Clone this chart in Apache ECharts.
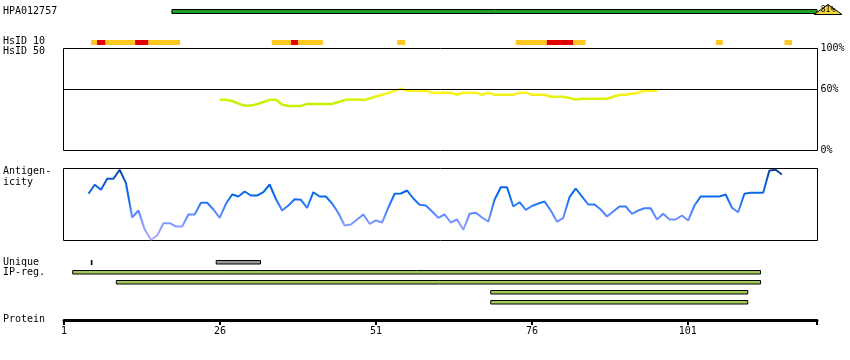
<!DOCTYPE html>
<html><head><meta charset="utf-8">
<script src="https://cdn.jsdelivr.net/npm/echarts@6/dist/echarts.min.js"></script>
<style>html,body{margin:0;padding:0;background:#fff}#c{width:850px;height:360px}</style>
</head><body><div id="c"></div>
<script>
// ---- data ----
const proteinStart = 1;
const proteinEnd = 121.7;
const axisTickValues = [1, 26, 51, 76, 101];
const hpaName = 'HPA012757';
const hpaRange = [18.3, 121.7];
const hpaIdentity = '81%';
const hsid10Orange = [[5.33, 19.6], [34.3, 42.5], [54.4, 55.7], [73.4, 84.6], [105.5, 106.6], [116.5, 117.7]];
const hsid10Red = [[6.3, 7.6], [12.4, 14.5], [37.4, 38.5], [78.4, 82.6]];
const hsid50Start = 26;
const hsid50Values = [49.7, 49.7, 48.5, 46, 44, 44, 45.5, 47.5, 49.7, 49.7,
  45, 43.7, 43.7, 43.7, 45.7, 45.7, 45.7, 45.7, 45.7, 47.5,
  49.5, 50, 50, 49.4, 51, 53, 54.7, 56.5, 58.5, 60.7,
  58.7, 58.5, 58.5, 58.5, 56.7, 56.7, 56.7, 56.7, 54.7, 56.7,
  56.7, 56.7, 54.7, 56.7, 54.7, 54.7, 54.7, 54.7, 56.7, 56.7,
  54.7, 54.7, 54.7, 52.7, 52.7, 52.7, 51.5, 50, 50.7, 50.7,
  50.7, 50.7, 50.7, 52.7, 54.7, 54.7, 55.7, 56.7, 58.7, 58.7, 58.7];
const hsid50Ticks = [0, 60, 100];
const antigenStart = 5;
const antigenValues = [46.7, 55.7, 50.7, 61.7, 61.7, 70.7, 57.3, 23, 30, 11,
  0.7, 5, 17.3, 17.3, 14, 14, 26, 26, 37.7, 37.7,
  31, 22.7, 36.7, 46, 44, 49, 45, 45, 48.3, 56,
  41.5, 30, 35, 41.3, 40.7, 32.7, 48.3, 44, 44, 37,
  27.5, 15, 16, 21, 26, 16.7, 20, 18, 33, 46.7,
  47, 50, 42, 35.7, 35, 29, 22.7, 26, 18, 21,
  10.7, 26.7, 27.7, 23, 18.7, 40.7, 53.3, 53.3, 34, 38.3,
  30.7, 34.5, 37, 39, 30, 18.7, 22.7, 43.3, 52, 44,
  36, 36, 31, 24, 29, 34, 34, 26.7, 30, 32.3,
  32.3, 21, 26.7, 21, 21, 25, 20, 35, 44, 44,
  44, 44, 46, 32.7, 28.3, 46.7, 47.7, 47.7, 47.7, 70,
  70.7, 66];
const regionRows = ['Unique', 'IP1', 'IP2', 'IP3', 'IP4'];
const uniqueTicks = [[5.3, 5.55]];
const uniqueBars = [[25.4, 32.5]];
const ipRegions = [[2.4, 112.65, 1], [9.4, 112.65, 2], [69.4, 110.6, 3], [69.4, 110.6, 4]];

// ---- chart ----
const FONT = 'DejaVu Sans Mono';
const L = 64, W = 753;
const chart = echarts.init(document.getElementById('c'), null, {renderer: 'canvas'});

function xAx(i, extra) {
  return Object.assign({gridIndex: i, type: 'value', min: proteinStart, max: proteinEnd, show: false}, extra || {});
}
function catY(i, data) {
  return {gridIndex: i, type: 'category', data: data, inverse: true, show: false};
}

const hsid50Data = hsid50Values.map((v, i) => [hsid50Start + i, v]);
const antigenData = antigenValues.map((v, i) => [antigenStart + i, v]);
const hsid10Data = hsid10Orange.map(s => [s[0], s[1], 0, 'o']).concat(hsid10Red.map(s => [s[0], s[1], 0, 'r']));
const regionData = uniqueTicks.map(s => [s[0], s[1], 0, 't'])
  .concat(uniqueBars.map(s => [s[0], s[1], 0, 'g']))
  .concat(ipRegions.map(s => [s[0], s[1], s[2], 'i']));

const labels = [
  ['HPA012757', 12.5], ['HsID 10', 42.5], ['HsID 50', 52.5], ['Antigen-', 172.5], ['icity', 183.3],
  ['Unique', 263.3], ['IP-reg.', 273.3], ['Protein', 320]
];

chart.setOption({
  animation: false,
  backgroundColor: '#fff',
  textStyle: {fontFamily: FONT},
  grid: [
    {left: L, width: W, top: 7, height: 10},
    {left: L, width: W, top: 37, height: 10},
    {left: 63.5, width: 754, top: 48.5, height: 102, show: true, borderColor: '#000', borderWidth: 1},
    {left: 63.5, width: 754, top: 168.5, height: 72, show: true, borderColor: '#000', borderWidth: 1},
    {left: L, width: W, top: 257, height: 50},
    {left: L, width: W, top: 300, height: 20}
  ],
  xAxis: [
    xAx(0), xAx(1), xAx(2), xAx(3), xAx(4),
    xAx(5, {
      show: true, position: 'bottom',
      axisLine: {show: true, lineStyle: {color: '#000', width: 3}},
      axisTick: {show: true, customValues: axisTickValues.concat([proteinEnd]), length: 5, lineStyle: {color: '#000', width: 2}},
      axisLabel: {show: true, customValues: axisTickValues, color: '#000', fontFamily: FONT, fontSize: 10, margin: 6},
      splitLine: {show: false}
    })
  ],
  yAxis: [
    catY(0, [hpaName]),
    catY(1, ['HsID 10']),
    {gridIndex: 2, type: 'value', min: 0, max: 100, position: 'right',
      axisLine: {show: false}, axisTick: {show: false}, splitLine: {show: false},
      axisLabel: {show: true, customValues: hsid50Ticks, formatter: '{value}%', color: '#000', fontFamily: FONT, fontSize: 10, margin: 3}},
    {gridIndex: 3, type: 'value', min: 0, max: 72, show: false},
    catY(4, regionRows),
    {gridIndex: 5, type: 'value', show: false}
  ],
  visualMap: [
    {type: 'continuous', show: false, seriesIndex: 2, dimension: 1, min: 47, max: 57,
      inRange: {color: ['#c6f000', '#fff21e']}},
    {type: 'continuous', show: false, seriesIndex: 3, dimension: 1, min: 0, max: 72,
      inRange: {color: ['#b4a8ff', '#8a9cff', '#4f86ff', '#0a6cf0', '#0a5fd8', '#0b3f90']}}
  ],
  series: [
    {type: 'custom', xAxisIndex: 0, yAxisIndex: 0, silent: true, data: [[hpaRange[0], hpaRange[1], 0]],
      renderItem: function (params, api) {
        const s = api.coord([api.value(0), 0]), e = api.coord([api.value(1), 0]);
        const y = Math.round(s[1]);
        return {type: 'group', children: [
          {type: 'rect', shape: {x: s[0], y: y - 2.5, width: e[0] - s[0], height: 4}, style: {fill: '#1f9e1f', stroke: '#000', lineWidth: 1}},
          {type: 'polygon', shape: {points: [[e[0] - 3, y + 2.5], [e[0] + 11, y - 7.5], [e[0] + 25, y + 2.5]]}, style: {fill: '#f4d43c', stroke: '#000', lineWidth: 1}},
          {type: 'text', style: {text: hpaIdentity, x: e[0] + 11, y: y - 2, align: 'center', verticalAlign: 'middle', font: '8px ' + FONT, fill: '#000'}}
        ]};
      }},
    {type: 'custom', xAxisIndex: 1, yAxisIndex: 1, silent: true, data: hsid10Data,
      renderItem: function (params, api) {
        const s = api.coord([api.value(0), 0]), e = api.coord([api.value(1), 0]);
        const t = hsid10Data[params.dataIndex][3];
        return {type: 'rect', shape: {x: s[0], y: Math.round(s[1]) - 2, width: e[0] - s[0], height: 5},
          style: {fill: t === 'r' ? '#e00000' : '#fec820'}};
      }},
    {type: 'line', xAxisIndex: 2, yAxisIndex: 2, data: hsid50Data, showSymbol: false, silent: true,
      lineStyle: {width: 2.5},
      markLine: {silent: true, symbol: 'none', label: {show: false},
        lineStyle: {color: '#000', width: 1, type: 'solid'}, data: [{yAxis: 60}]},
      z: 3},
    {type: 'line', xAxisIndex: 3, yAxisIndex: 3, data: antigenData, showSymbol: false, silent: true,
      lineStyle: {width: 2}},
    {type: 'custom', xAxisIndex: 4, yAxisIndex: 4, silent: true, data: regionData,
      renderItem: function (params, api) {
        const d = regionData[params.dataIndex];
        const s = api.coord([d[0], d[2]]), e = api.coord([d[1], d[2]]);
        const y = Math.round(s[1]);
        if (d[3] === 't') {
          return {type: 'rect', shape: {x: s[0], y: y - 2, width: Math.max(1.5, e[0] - s[0]), height: 5}, style: {fill: '#000'}};
        }
        return {type: 'rect', shape: {x: s[0], y: y - 1.5, width: e[0] - s[0], height: 3.5},
          style: {fill: d[3] === 'g' ? '#999999' : '#9fc85a', stroke: '#000', lineWidth: 1}};
      }}
  ],
  graphic: labels.map(l => ({type: 'text', left: 3, top: l[1] - 6, silent: true,
    style: {text: l[0], font: '10px ' + FONT, fill: '#000'}}))
});
</script></body></html>
